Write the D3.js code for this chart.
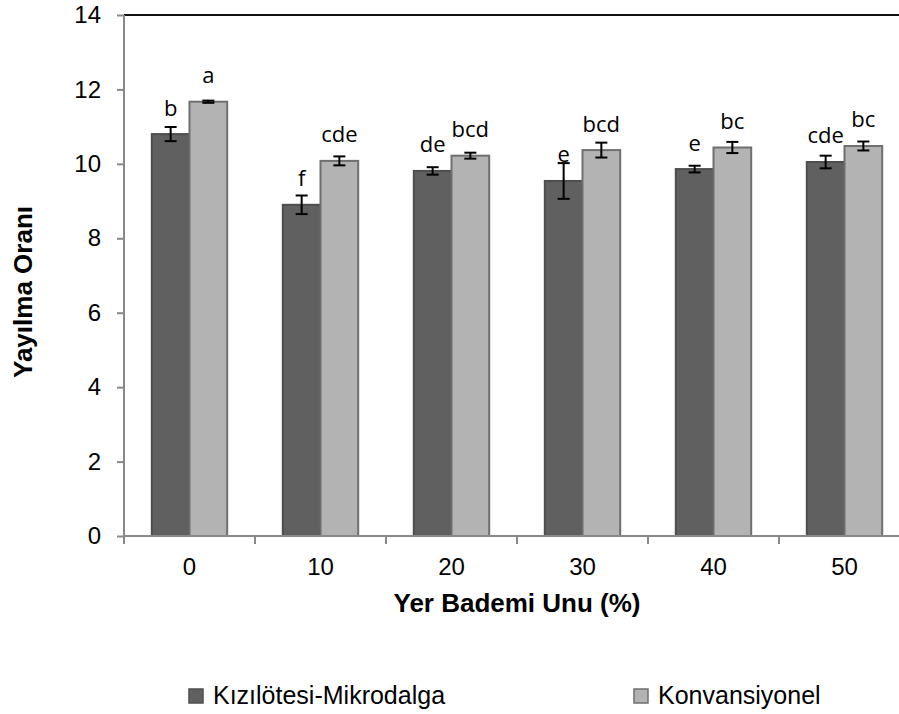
<!DOCTYPE html>
<html>
<head>
<meta charset="utf-8">
<script src="https://cdn.jsdelivr.net/npm/d3@7"></script>
<style>
  html, body { margin: 0; padding: 0; background: #fff; }
  svg { display: block; }
</style>
</head>
<body>
<svg id="chart" width="899" height="714"></svg>
<script>
// Spread ratio by ground almond flour level, two cooking methods
const categories = ["0", "10", "20", "30", "40", "50"];
const seriesNames = ["Kızılötesi-Mikrodalga", "Konvansiyonel"];
const kizilotesi = [10.80, 8.90, 9.81, 9.54, 9.86, 10.05];
const kizilotesiErr = [0.19, 0.25, 0.10, 0.48, 0.09, 0.17];
const konvansiyonel = [11.67, 10.08, 10.22, 10.37, 10.44, 10.48];
const konvansiyonelErr = [0.03, 0.12, 0.08, 0.20, 0.15, 0.12];
const kizilotesiLetters = ["b", "f", "de", "e", "e", "cde"];
const konvansiyonelLetters = ["a", "cde", "bcd", "bcd", "bc", "bc"];
const yTicks = [0, 2, 4, 6, 8, 10, 12, 14];

const fills = ["#606060", "#b3b3b3"];
const strokes = ["#4e4e4e", "#6f6f6f"];
const axisColor = "#898989";

const svg = d3.select("#chart");
const plot = { left: 124, top: 15, bottom: 536, right: 910 };

const y = d3.scaleLinear().domain([0, 14]).range([plot.bottom, plot.top]);
const pad = 0.4244;
const x = d3.scaleBand().domain(categories).range([plot.left, plot.right])
  .paddingInner(pad).paddingOuter(pad / 2);
const xs = d3.scaleBand().domain(seriesNames).range([0, x.bandwidth()]);

const rows = categories.map((c, i) => ([
  { cat: c, s: 0, v: kizilotesi[i], e: kizilotesiErr[i], l: kizilotesiLetters[i] },
  { cat: c, s: 1, v: konvansiyonel[i], e: konvansiyonelErr[i], l: konvansiyonelLetters[i] }
])).flat();

// top frame line
svg.append("line")
  .attr("x1", plot.left).attr("x2", 899)
  .attr("y1", y(14)).attr("y2", y(14))
  .attr("stroke", "#111").attr("stroke-width", 2);

// y axis
const yAxis = svg.append("g").attr("transform", `translate(${plot.left},0)`)
  .call(d3.axisLeft(y).tickValues(yTicks).tickSize(7).tickPadding(16).tickFormat(d3.format("d")));
yAxis.select(".domain").attr("stroke", axisColor).attr("stroke-width", 2)
  .attr("d", `M0,${plot.top}V${plot.bottom}`);
yAxis.selectAll(".tick line").attr("stroke", axisColor).attr("stroke-width", 2);
yAxis.selectAll(".tick text")
  .attr("font-family", "Liberation Sans, Arial, sans-serif")
  .attr("font-size", 24).attr("fill", "#000");

// bars
const bars = svg.append("g");
bars.selectAll("rect").data(rows).join("rect")
  .attr("x", d => x(d.cat) + xs(seriesNames[d.s]))
  .attr("width", xs.bandwidth())
  .attr("y", d => y(d.v))
  .attr("height", d => y(0) - y(d.v))
  .attr("fill", d => fills[d.s])
  .attr("stroke", d => strokes[d.s])
  .attr("stroke-width", 2);

// x axis baseline and category boundary ticks
svg.append("line")
  .attr("x1", plot.left).attr("x2", 899)
  .attr("y1", y(0)).attr("y2", y(0))
  .attr("stroke", axisColor).attr("stroke-width", 2);
const boundaries = categories.map(c => x(c) - x.step() * pad / 2);
svg.append("g").selectAll("line").data(boundaries).join("line")
  .attr("x1", d => d).attr("x2", d => d)
  .attr("y1", y(0)).attr("y2", y(0) + 8)
  .attr("stroke", axisColor).attr("stroke-width", 2);
svg.append("g").selectAll("text").data(categories).join("text")
  .attr("x", d => x(d) + x.bandwidth() / 2)
  .attr("y", 575)
  .attr("text-anchor", "middle")
  .attr("font-family", "Liberation Sans, Arial, sans-serif")
  .attr("font-size", 24)
  .text(d => d);

// error bars
const eb = svg.append("g").attr("stroke", "#000").attr("stroke-width", 2);
rows.forEach(d => {
  const cx = x(d.cat) + xs(seriesNames[d.s]) + xs.bandwidth() / 2;
  const y1 = y(d.v + d.e), y2 = y(d.v - d.e);
  eb.append("line").attr("x1", cx).attr("x2", cx).attr("y1", y1).attr("y2", y2);
  eb.append("line").attr("x1", cx - 6).attr("x2", cx + 6).attr("y1", y1).attr("y2", y1);
  eb.append("line").attr("x1", cx - 6).attr("x2", cx + 6).attr("y1", y2).attr("y2", y2);
});

// significance letters
svg.append("g").selectAll("text").data(rows).join("text")
  .attr("x", d => x(d.cat) + xs(seriesNames[d.s]) + xs.bandwidth() / 2)
  .attr("y", d => y(d.v) - 18.5)
  .attr("text-anchor", "middle")
  .attr("font-family", "Open Sans, sans-serif")
  .attr("font-size", 22)
  .attr("fill", "#000")
  .text(d => d.l);

// axis titles
svg.append("text")
  .attr("x", (plot.left + plot.right) / 2).attr("y", 612)
  .attr("text-anchor", "middle")
  .attr("font-family", "Liberation Sans, Arial, sans-serif")
  .attr("font-size", 26).attr("font-weight", "bold")
  .text("Yer Bademi Unu (%)");
svg.append("text")
  .attr("transform", "translate(32,378) rotate(-90)")
  .attr("text-anchor", "start")
  .attr("font-family", "Liberation Sans, Arial, sans-serif")
  .attr("font-size", 26).attr("font-weight", "bold")
  .text("Yayılma Oranı");

// legend
const legendX = [189, 634];
const legend = svg.append("g");
seriesNames.forEach((name, i) => {
  legend.append("rect")
    .attr("x", legendX[i]).attr("y", 689)
    .attr("width", 14).attr("height", 14)
    .attr("fill", fills[i]).attr("stroke", strokes[i]).attr("stroke-width", 1.5);
  legend.append("text")
    .attr("x", legendX[i] + 24).attr("y", 704)
    .attr("font-family", "Liberation Sans, Arial, sans-serif")
    .attr("font-size", 25)
    .text(name);
});
</script>
</body>
</html>
